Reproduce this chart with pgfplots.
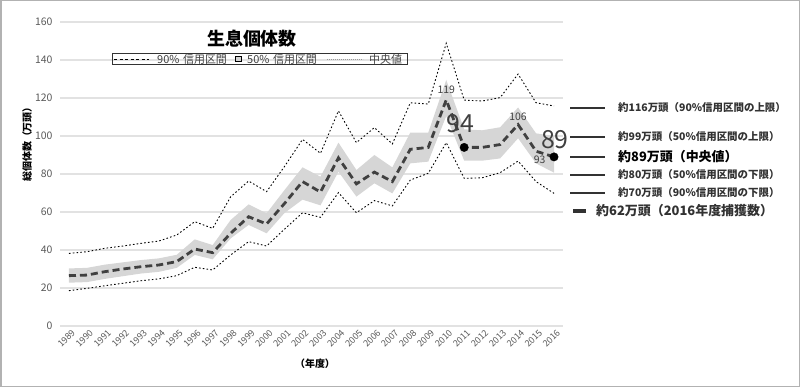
\documentclass[border=0pt]{standalone}
\usepackage{fontspec}
\setmainfont{Noto Sans CJK JP}
\usepackage{pgfplots}
\usepackage{pgfplotstable}
\pgfplotsset{compat=1.18}
\usepgfplotslibrary{fillbetween}
\definecolor{bandc}{RGB}{214,214,214}
\definecolor{medc}{RGB}{64,64,64}
\definecolor{tickc}{RGB}{89,89,89}
\definecolor{gridc}{RGB}{226,226,226}
\definecolor{annc}{RGB}{50,50,50}
\pgfplotstableread{
x med u90 l90 u50 l50
0 26.5 38.2 18.6 30.3 22.8
1 26.8 39.1 19.8 30.6 23.1
2 28.6 40.9 21.2 32.3 24.8
3 30.0 42.1 22.5 33.5 26.2
4 31.2 43.5 23.8 34.7 27.6
5 32.1 44.7 24.8 35.6 28.5
6 33.9 47.9 26.5 37.5 30.6
7 40.5 54.9 30.9 45.6 37.4
8 38.6 51.4 29.5 42.6 35.1
9 48.8 68.0 37.4 55.8 46.1
10 57.5 76.3 44.4 64.0 53.2
11 53.7 70.7 42.1 59.3 48.8
12 64.5 84.0 51.0 71.6 59.5
13 76.0 98.2 59.6 83.5 66.5
14 70.5 90.9 57.2 78.6 63.5
15 88.5 113.2 70.2 96.5 81.2
16 74.8 96.5 59.6 82.1 68.1
17 81.0 104.4 66.0 90.0 75.1
18 76.0 95.8 63.2 83.5 69.8
19 93.0 117.5 76.8 101.8 85.6
20 94.0 116.8 80.4 101.8 86.5
21 119.0 148.8 96.5 129.5 110.5
22 94.0 118.9 77.7 103.5 87.0
23 94.0 118.4 78.0 103.0 87.0
24 95.5 120.2 80.7 104.6 88.2
25 106.0 132.6 86.8 115.0 98.8
26 92.0 117.5 76.0 101.4 85.6
27 89.0 115.8 69.8 100.0 80.7
}\datatable
\pgfplotstableread{
x y
22 94
27 89
}\dotdata
\begin{document}
\begin{tikzpicture}
\draw[draw=black!30, line width=1.5bp] (0.75bp,0.75bp) rectangle (799.25bp,386.25bp);
\begin{axis}[
  at={(60bp,61bp)}, anchor=south west, scale only axis,
  width=503bp, height=304bp,
  xmin=-0.5, xmax=27.5, ymin=0, ymax=160,
  ytick={0,20,...,160},
  xtick={0,...,27},
  xticklabels={1989,1990,1991,1992,1993,1994,1995,1996,1997,1998,1999,2000,2001,2002,2003,2004,2005,2006,2007,2008,2009,2010,2011,2012,2013,2014,2015,2016},
  axis line style={draw=none},
  major tick style={draw=none},
  ymajorgrids, grid style={gridc, line width=1.2bp},
  /pgf/number format/assume math mode=true,
  yticklabel style={font=\fontsize{10.5}{12}\selectfont, text=tickc, xshift=-4bp},
  xticklabel style={font=\fontsize{9}{10}\selectfont, text=tickc, rotate=45, anchor=north east, inner sep=0.5bp, yshift=-3bp},
  clip=false,
]
\addplot[name path=u50, draw=none, forget plot] table[x=x, y=u50] {\datatable};
\addplot[name path=l50, draw=none, forget plot] table[x=x, y=l50] {\datatable};
\addplot[bandc, draw=none] fill between[of=u50 and l50];
\addplot[black, line width=0.9bp, dash pattern=on 1.6bp off 2.2bp] table[x=x, y=u90] {\datatable};
\addplot[black, line width=0.9bp, dash pattern=on 1.6bp off 2.2bp] table[x=x, y=l90] {\datatable};
\addplot[medc, line width=2.8bp, dash pattern=on 7bp off 4bp] table[x=x, y=med] {\datatable};
\addplot[only marks, mark=*, mark size=4.2bp, black] table[x=x, y=y] {\dotdata};
\node[font=\fontsize{10.5}{12}\selectfont, text=medc] at (axis cs:21,124.2) {119};
\node[font=\fontsize{25}{28}\selectfont, text=medc] at (axis cs:21.8,106.3) {94};
\node[font=\fontsize{10.5}{12}\selectfont, text=medc] at (axis cs:25,110.3) {106};
\node[font=\fontsize{10.5}{12}\selectfont, text=medc] at (axis cs:26.2,87.4) {93};
\node[font=\fontsize{25}{28}\selectfont, text=medc] at (axis cs:27.05,97.9) {89};
\end{axis}
% title
\node[font=\fontsize{18}{20}\selectfont\bfseries] at (252bp,348bp) {生息個体数};
% legend
\draw[black!80, line width=0.8bp] (112bp,322.5bp) rectangle (407bp,333.5bp);
\draw[black, line width=0.8bp, dash pattern=on 3bp off 2.5bp] (114bp,328bp) -- (149bp,328bp);
\node[anchor=west, inner sep=0pt, font=\fontsize{11}{12}\selectfont, text=medc] at (157bp,328bp) {90\%\,\,信用区間};
\draw[black, fill=bandc, line width=0.8bp] (235.5bp,325.5bp) rectangle (241.5bp,331bp);
\node[anchor=west, inner sep=0pt, font=\fontsize{11}{12}\selectfont, text=medc] at (247bp,328bp) {50\%\,\,信用区間};
\draw[black!40, line width=0.6bp, dash pattern=on 1bp off 1bp] (327bp,328bp) -- (363bp,328bp);
\node[anchor=west, inner sep=0pt, font=\fontsize{11}{12}\selectfont, text=medc] at (369bp,328bp) {中央値};
% axis titles
\node[rotate=90, font=\fontsize{10}{12}\selectfont\bfseries] at (27bp,245bp) {総個体数（万頭）};
\node[font=\fontsize{10}{12}\selectfont\bfseries] at (315bp,23bp) {（年度）};
% right annotations
\foreach \yy in {279,250,230,212,194} {
  \draw[annc, line width=1.8bp] (570bp,\yy bp) -- (605bp,\yy bp);
}
\draw[annc, line width=3.5bp] (573bp,176bp) -- (586bp,176bp);
\node[anchor=west, inner sep=0pt, font=\fontsize{10.5}{12}\selectfont\bfseries, text=annc] at (618bp,279bp) {約116万頭（90\%信用区間の上限）};
\node[anchor=west, inner sep=0pt, font=\fontsize{10.5}{12}\selectfont\bfseries, text=annc] at (618bp,250bp) {約99万頭（50\%信用区間の上限）};
\node[anchor=west, inner sep=0pt, font=\fontsize{13}{15}\selectfont\bfseries, text=black] at (618bp,230bp) {約89万頭（中央値）};
\node[anchor=west, inner sep=0pt, font=\fontsize{10.5}{12}\selectfont\bfseries, text=annc] at (618bp,212bp) {約80万頭（50\%信用区間の下限）};
\node[anchor=west, inner sep=0pt, font=\fontsize{10.5}{12}\selectfont\bfseries, text=annc] at (618bp,194bp) {約70万頭（90\%信用区間の下限）};
\node[anchor=west, inner sep=0pt, font=\fontsize{13}{15}\selectfont\bfseries, text=annc] at (596bp,176bp) {約62万頭（2016年度捕獲数）};
\end{tikzpicture}
\end{document}
